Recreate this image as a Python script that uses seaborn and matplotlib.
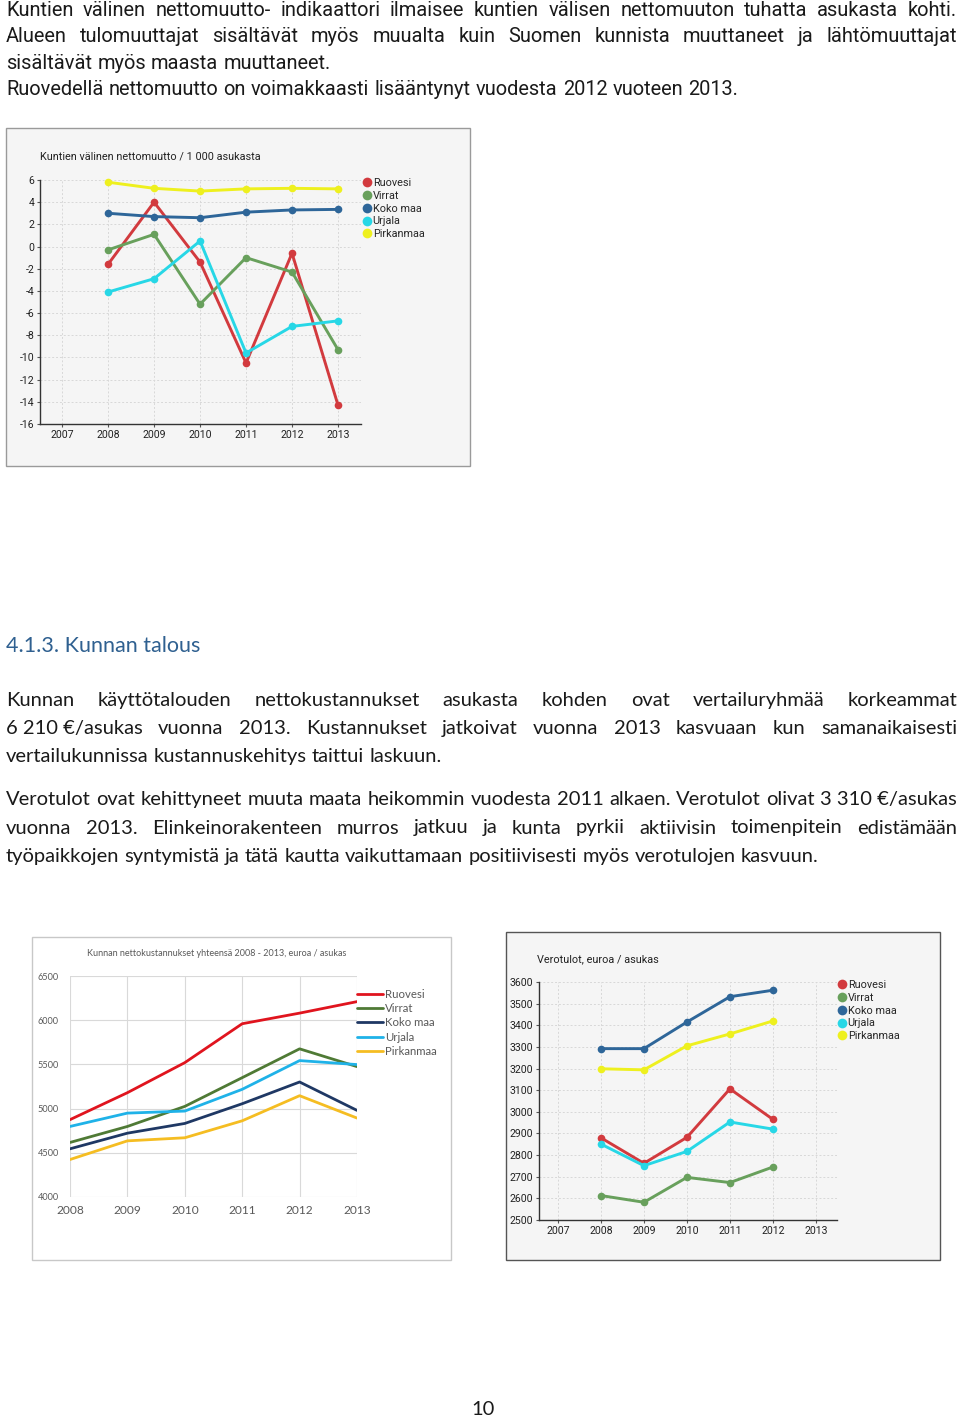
import matplotlib
matplotlib.use("Agg")
import matplotlib.pyplot as plt
from matplotlib.patches import Rectangle
from matplotlib.lines import Line2D
import seaborn as sns
import pandas as pd
import numpy as np

# ---------------- data ----------------
series_names = ["Ruovesi", "Virrat", "Koko maa", "Urjala", "Pirkanmaa"]

years_muutto = [2008, 2009, 2010, 2011, 2012, 2013]
muutto_ruovesi = [-1.6, 4.0, -1.4, -10.5, -0.6, -14.3]
muutto_virrat = [-0.3, 1.1, -5.2, -1.0, -2.3, -9.3]
muutto_kokomaa = [3.0, 2.7, 2.6, 3.1, 3.3, 3.35]
muutto_urjala = [-4.1, -2.9, 0.5, -9.6, -7.2, -6.7]
muutto_pirkanmaa = [5.8, 5.25, 5.0, 5.2, 5.25, 5.2]

years_kust = [2008, 2009, 2010, 2011, 2012, 2013]
kust_ruovesi = [4875, 5180, 5520, 5960, 6080, 6210]
kust_virrat = [4617, 4798, 5025, 5350, 5676, 5475]
kust_kokomaa = [4545, 4722, 4832, 5055, 5301, 4980]
kust_urjala = [4798, 4949, 4972, 5218, 5543, 5498]
kust_pirkanmaa = [4424, 4635, 4670, 4862, 5146, 4893]

years_vero = [2008, 2009, 2010, 2011, 2012]
vero_ruovesi = [2880, 2762, 2882, 3106, 2965]
vero_virrat = [2613, 2582, 2697, 2673, 2745]
vero_kokomaa = [3292, 3292, 3415, 3532, 3562]
vero_urjala = [2851, 2751, 2817, 2953, 2920]
vero_pirkanmaa = [3199, 3194, 3305, 3360, 3420]

ticks_muutto_x = [2007, 2008, 2009, 2010, 2011, 2012, 2013]
ticks_muutto_y = [6, 4, 2, 0, -2, -4, -6, -8, -10, -12, -14, -16]
ticks_kust_x = [2008, 2009, 2010, 2011, 2012, 2013]
ticks_kust_y = [4000, 4500, 5000, 5500, 6000, 6500]
ticks_vero_x = [2007, 2008, 2009, 2010, 2011, 2012, 2013]
ticks_vero_y = [2500, 2600, 2700, 2800, 2900, 3000, 3100, 3200, 3300, 3400, 3500, 3600]

title_muutto = "Kuntien välinen nettomuutto / 1 000 asukasta"
title_kust = "Kunnan nettokustannukset yhteensä 2008 - 2013, euroa / asukas"
title_vero = "Verotulot, euroa / asukas"

para1 = ["Kuntien välinen nettomuutto- indikaattori ilmaisee kuntien välisen nettomuuton tuhatta asukasta kohti.",
         "Alueen tulomuuttajat sisältävät myös muualta kuin Suomen kunnista muuttaneet ja lähtömuuttajat",
         "sisältävät myös maasta muuttaneet."]
para1b = ["Ruovedellä nettomuutto on voimakkaasti lisääntynyt vuodesta 2012 vuoteen 2013."]
heading = "4.1.3. Kunnan talous"
para2 = ["Kunnan käyttötalouden nettokustannukset asukasta kohden ovat vertailuryhmää korkeammat",
         "6\u00a0210\u00a0€/asukas vuonna 2013. Kustannukset jatkoivat vuonna 2013 kasvuaan kun samanaikaisesti",
         "vertailukunnissa kustannuskehitys taittui laskuun."]
para3 = ["Verotulot ovat kehittyneet muuta maata heikommin vuodesta 2011 alkaen. Verotulot olivat 3\u00a0310\u00a0€/asukas",
         "vuonna 2013. Elinkeinorakenteen murros jatkuu ja kunta pyrkii aktiivisin toimenpitein edistämään",
         "työpaikkojen syntymistä ja tätä kautta vaikuttamaan positiivisesti myös verotulojen kasvuun."]
page_number = "10"

# ---------------- layout helpers ----------------
W, H = 960, 1418
sns.set_theme(style="white")
plt.rcParams["font.family"] = ["Lato", "DejaVu Sans"]
fig = plt.figure(figsize=(W / 100, H / 100), dpi=100)
fig.patch.set_facecolor("white")
renderer = fig.canvas.get_renderer()

CHART_FONT = ["Roboto", "DejaVu Sans"]
BODY_FONT = ["Lato", "DejaVu Sans"]
TOP_FONT = ["Roboto", "DejaVu Sans"]


def ax_px(x0, y0, x1, y1):
    a = fig.add_axes([x0 / W, 1 - y1 / H, (x1 - x0) / W, (y1 - y0) / H])
    a.set_facecolor("none")
    return a


def box_px(x0, y0, x1, y1, fc, ec):
    fig.add_artist(Rectangle((x0 / W, 1 - y1 / H), (x1 - x0) / W, (y1 - y0) / H,
                             transform=fig.transFigure, fc=fc, ec=ec, lw=1.0, zorder=-5))


def paragraph(lines, x0, x1, y0, dy, size, family, color="#1a1a1a", justify_last=False):
    space = 0.26 * size * 100 / 72
    for i, line in enumerate(lines):
        y = y0 + i * dy
        words = line.split(" ")
        just = (i < len(lines) - 1) or justify_last
        ts = [fig.text(0, 1 - y / H, w, fontsize=size, family=family, color=color,
                       va="baseline", ha="left") for w in words]
        ws = [t.get_window_extent(renderer).width for t in ts]
        if just and len(words) > 1:
            gap = (x1 - x0 - sum(ws)) / (len(words) - 1)
        else:
            gap = space
        x = x0
        for t, w in zip(ts, ws):
            t.set_x(x / W)
            x += w + gap


def long_df(years, values_lists):
    rows = []
    for name, vals in zip(series_names, values_lists):
        for yr, v in zip(years, vals):
            rows.append({"year": yr, "value": v, "series": name})
    return pd.DataFrame(rows)


# ---------------- texts ----------------
paragraph(para1, 6, 957, 16, 26.3, 14.4, TOP_FONT)
paragraph(para1b, 6, 957, 95, 26, 14.4, TOP_FONT)
fig.text(6 / W, 1 - 652 / H, heading, fontsize=15.5, family=BODY_FONT, color="#2f6090",
         va="baseline", ha="left")
paragraph(para2, 6, 957, 706, 28.2, 14.5, BODY_FONT)
paragraph(para3, 6, 957, 805, 28.5, 14.5, BODY_FONT)
fig.text(483 / W, 1 - 1415 / H, page_number, fontsize=14.5, family=BODY_FONT, color="#1a1a1a",
         va="baseline", ha="center")

# ---------------- chart style (chart 1 & 3) ----------------
pal_web = {"Ruovesi": "#d23a3e", "Virrat": "#68a05c", "Koko maa": "#2e6699",
           "Urjala": "#27d7e6", "Pirkanmaa": "#eef01e"}
pal_excel = {"Ruovesi": "#e0141e", "Virrat": "#4f7a35", "Koko maa": "#1f3864",
             "Urjala": "#1fb2e8", "Pirkanmaa": "#f5bd22"}


def web_chart(ax, df, xlim, ylim, xt, yt, title, tx, ty, leg_x, leg_y, lab_size=7.6):
    sns.lineplot(data=df, x="year", y="value", hue="series", palette=pal_web,
                 hue_order=series_names, marker="o", markersize=5.5, markeredgewidth=0,
                 linewidth=2.1, legend=False, ax=ax, clip_on=False)
    ax.set_xlim(*xlim)
    ax.set_ylim(*ylim)
    ax.set_xticks(xt)
    ax.set_yticks(yt)
    ax.set_xticklabels([str(v) for v in xt], fontsize=lab_size, family=CHART_FONT, color="#222222")
    ax.set_yticklabels([str(v) for v in yt], fontsize=lab_size, family=CHART_FONT, color="#222222")
    ax.set_xlabel("")
    ax.set_ylabel("")
    ax.grid(True, color="#d8d8d8", linestyle=(0, (2, 2)), linewidth=0.7)
    for s in ["top", "right"]:
        ax.spines[s].set_visible(False)
    for s in ["left", "bottom"]:
        ax.spines[s].set_color("#333333")
        ax.spines[s].set_linewidth(1.0)
    ax.tick_params(axis="both", length=2.5, width=0.8, color="#555555", pad=1.5, direction="out",
                   left=True, bottom=True)
    fig.text(tx / W, 1 - ty / H, title, fontsize=7.8, family=CHART_FONT, color="#222222",
             va="baseline", ha="left")
    handles = [Line2D([], [], linestyle="none", marker="o", markersize=7, markeredgewidth=0,
                      color=pal_web[n]) for n in series_names]
    fig.legend(handles, series_names, loc="upper left",
               bbox_to_anchor=(leg_x / W, 1 - leg_y / H), frameon=False,
               handlelength=0.5, handletextpad=0.3, labelspacing=0.26, borderpad=0,
               borderaxespad=0, prop={"family": CHART_FONT, "size": 7.8})


# Chart 1: nettomuutto
box_px(6, 128, 470, 466, "#f5f5f5", "#9a9a9a")
ax1 = ax_px(40, 180, 361, 424)
df1 = long_df(years_muutto, [muutto_ruovesi, muutto_virrat, muutto_kokomaa, muutto_urjala, muutto_pirkanmaa])
web_chart(ax1, df1, (2006.52, 2013.5), (-16, 6), ticks_muutto_x, ticks_muutto_y,
          title_muutto, 40, 160, 364, 178)

# Chart 3: verotulot
box_px(506, 932, 940, 1260, "#f5f5f5", "#555555")
ax3 = ax_px(539, 982, 837, 1220)
df3 = long_df(years_vero, [vero_ruovesi, vero_virrat, vero_kokomaa, vero_urjala, vero_pirkanmaa])
web_chart(ax3, df3, (2006.56, 2013.49), (2500, 3600), ticks_vero_x, ticks_vero_y,
          title_vero, 537, 962, 839, 980)

# Chart 2: nettokustannukset (Excel style)
box_px(32, 937, 451, 1260, "white", "#c8c8c8")
ax2 = ax_px(70, 976, 357, 1197)
df2 = long_df(years_kust, [kust_ruovesi, kust_virrat, kust_kokomaa, kust_urjala, kust_pirkanmaa])
sns.lineplot(data=df2, x="year", y="value", hue="series", palette=pal_excel,
             hue_order=series_names, linewidth=2.0, legend=False, ax=ax2)
ax2.set_xlim(2008, 2013)
ax2.set_ylim(4000, 6500)
ax2.set_xticks(ticks_kust_x)
ax2.set_yticks(ticks_kust_y)
ax2.set_xticklabels([str(v) for v in ticks_kust_x], fontsize=8.6, family=BODY_FONT, color="#595959")
ax2.set_yticklabels([str(v) for v in ticks_kust_y], fontsize=6.6, family=BODY_FONT, color="#595959")
ax2.set_xlabel("")
ax2.set_ylabel("")
ax2.grid(True, color="#d9d9d9", linewidth=0.8)
for s in ax2.spines.values():
    s.set_visible(False)
ax2.tick_params(axis="x", length=0, pad=6)
ax2.tick_params(axis="y", length=0, pad=8)
fig.text(217 / W, 1 - 956 / H, title_kust, fontsize=6.5, family=BODY_FONT, color="#595959",
         va="baseline", ha="center")
handles2 = [Line2D([], [], color=pal_excel[n], linewidth=2.0) for n in series_names]
fig.legend(handles2, series_names, loc="upper left", bbox_to_anchor=(357 / W, 1 - 989 / H),
           frameon=False, handlelength=2.3, handletextpad=0.15, labelspacing=0.28, borderpad=0,
           borderaxespad=0, prop={"family": BODY_FONT, "size": 8.2}, labelcolor="#595959")

fig.savefig("out.png", dpi=100, facecolor="white")
